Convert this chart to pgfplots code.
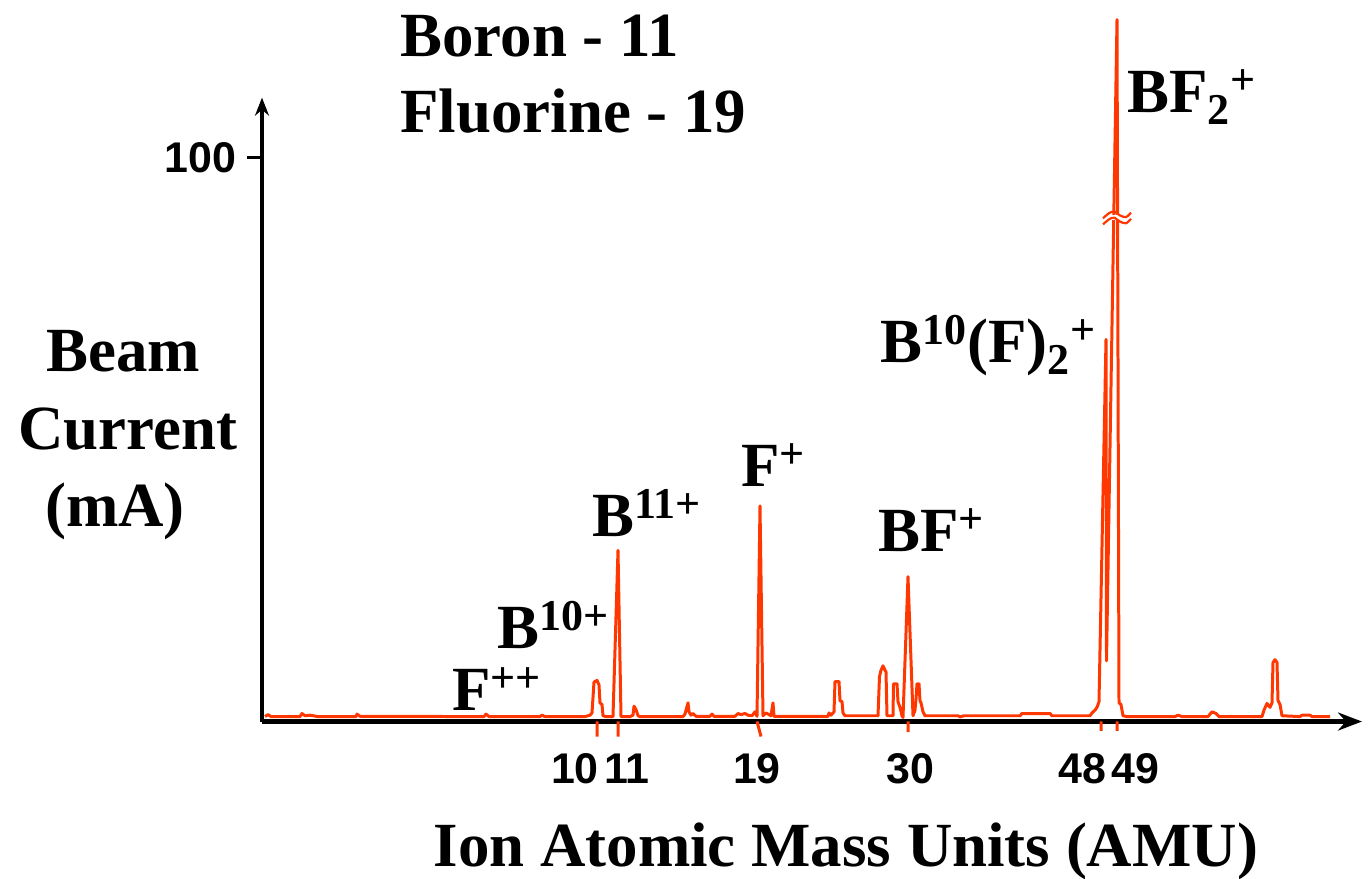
\documentclass[border=0pt]{standalone}
\usepackage{pgfplots}
\pgfplotsset{compat=1.18}
\usetikzlibrary{arrows.meta}
\usepackage{fontspec}
\setmainfont{Liberation Serif}
\newfontfamily\hv{Liberation Sans}
\definecolor{trace}{RGB}{255,55,0}
\begin{document}
\begin{tikzpicture}
\begin{axis}[
  scale only axis,
  width=551pt, height=312.5pt,
  xmin=262, xmax=1362,
  ymin=-0.53, ymax=110.7,
  clip=false,
  axis lines=left,
  x axis line style={line width=2.3pt,-{Stealth[length=12pt,width=9pt]}},
  y axis line style={line width=1.8pt,-{Stealth[length=9pt,width=7pt]}},
  xtick={575,627,757,910,1082,1135},
  xticklabels={10,11,19,30,48,49},
  xtick style={draw=none},
  xticklabel style={font=\hv\bfseries\fontsize{21.5}{21.5}\selectfont, yshift=-5pt},
  ytick={100},
  yticklabels={100},
  ytick style={line width=1.5pt, black},
  tick align=outside,
  major tick length=7.5pt,
  yticklabel style={font=\hv\bfseries\fontsize{21.5}{21.5}\selectfont, xshift=-2pt},
  unbounded coords=jump,
]
% main trace
\addplot[trace, line width=1.5pt, line join=round] coordinates {
(265,0.35)(268,0.7)(271,0.35)(300,0.35)(302,0.9)(305,0.5)(310,0.6)(318,0.35)
(356,0.35)(357,0.8)(360,0.4)(484,0.35)(486,0.8)(489,0.35)(540,0.35)(542,0.6)(545,0.35)
(585,0.35)(590,0.6)(592,1.0)(594,6.5)(597,6.8)(599,6.0)(600,2.8)(602,2.5)(603,0.5)(606,0.35)
(613,0.35)(618,30.0)(621,0.35)(630,0.35)(633,0.6)(634,2.2)(636,1.6)(638,0.5)(640,0.35)
(683,0.35)(685,0.8)(688,2.8)(689,1.2)(691,0.6)(693,0.9)(696,0.4)(710,0.4)(712,0.8)(714,0.4)
(735,0.4)(738,0.9)(741,0.7)(745,0.9)(748,0.6)(752,0.5)(755,1.2)(757,0.4)(760,37.9)(763,0.5)
(766,1.0)(771,0.5)(773,2.8)(774,0.4)(828,0.4)(829,1.0)(831,0.6)(834,1.2)(835,6.6)(839,6.6)
(840,3.2)(842,3.0)(843,1.0)(845,0.5)(878,0.5)(879.5,7.5)(881,8.6)(883,9.4)(885,8.6)(886,8.3)
(887,0.5)(893,0.5)(893.5,6.2)(897,6.2)(898,3.0)(900,2.0)(902,0.5)(903,0.2)(908,25.3)(913,0.5)
(915,1.5)(916,3.5)(917,6.2)(919,6.2)(920,3.2)(921,2.8)(923,1.2)(925,0.5)(958,0.5)(960,0.3)
(964,0.5)(1020,0.5)(1022,0.9)(1050,0.9)(1052,0.5)(1090,0.5)(1092,1.0)(1095,1.5)(1097,2.0)
(1099,3.0)(1106,67.6)(1106.5,10.3)(1117,124.6)(1119,2.8)(1121,2.5)(1123,0.5)(1127,0.35)
(1175,0.35)(1178,0.6)(1182,0.35)(1208,0.35)(1212,1.2)(1216,0.9)(1219,0.35)(1262,0.35)
(1264,1.5)(1267,2.7)(1270,2.0)(1272,2.8)(1273,10.0)(1275,10.5)(1277,10.0)(1278,3.2)
(1280,2.5)(1282,0.5)(1300,0.35)(1302,0.6)(1310,0.6)(1312,0.35)(1330,0.35)
};
% red marks below the axis
\addplot[trace, line width=1.5pt] coordinates {
(597,-0.5)(597,-3.2)(nan,nan)(618,-0.5)(618,-3.2)(nan,nan)
(757,-0.5)(761,-3.2)(nan,nan)(908,-0.5)(908,-2.4)(nan,nan)
(1101,-0.5)(1101,-2.2)(nan,nan)(1117,-0.5)(1117,-2.2)
};
% break marks on the BF2+ peak
\addplot[white, line width=2.5pt] coordinates {(1104,89.4)(1131,89.4)};
\addplot[trace, line width=1.1pt, smooth] coordinates {(1103,89.2)(1109,90.1)(1114,90.4)(1120,89.7)(1126,89.4)(1131,90.2)};
\addplot[trace, line width=1.1pt, smooth] coordinates {(1103,88.1)(1109,89.0)(1114,89.3)(1120,88.6)(1126,88.3)(1131,89.1)};
% labels
\begin{scope}[every node/.style={inner sep=0pt, font=\bfseries\fontsize{31.5}{36}\selectfont}]
\node[anchor=base west] at (axis cs:400,118.0) {Boron - 11};
\node[anchor=base west] at (axis cs:400,104.4) {Fluorine - 19};
\node[anchor=base] at (axis cs:123,61.9) {Beam};
\node[anchor=base] at (axis cs:128,48.0) {Current};
\node[anchor=base] at (axis cs:115,34.3) {(mA)};
\node[anchor=base] at (axis cs:846,-26.4) {Ion Atomic Mass Units (AMU)};
\node[anchor=base west] at (axis cs:452,1.4) {F\textsuperscript{++}};
\node[anchor=base west] at (axis cs:497,12.5) {B\textsuperscript{10+}};
\node[anchor=base west] at (axis cs:592,32.4) {B\textsuperscript{11+}};
\node[anchor=base west] at (axis cs:741,41.3) {F\textsuperscript{+}};
\node[anchor=base west] at (axis cs:878,29.7) {BF\textsuperscript{+}};
\node[anchor=base west] at (axis cs:880,63.5) {B\textsuperscript{10}(F)\textsubscript{2}\textsuperscript{+}};
\node[anchor=base west] at (axis cs:1127,108.0) {BF\textsubscript{2}\textsuperscript{+}};
\end{scope}
\coordinate (bl) at (axis cs:0,-28.47);
\coordinate (tr) at (axis cs:1368,128.11);
\end{axis}
\pgfresetboundingbox
\useasboundingbox (bl) rectangle (tr);
\end{tikzpicture}
\end{document}
